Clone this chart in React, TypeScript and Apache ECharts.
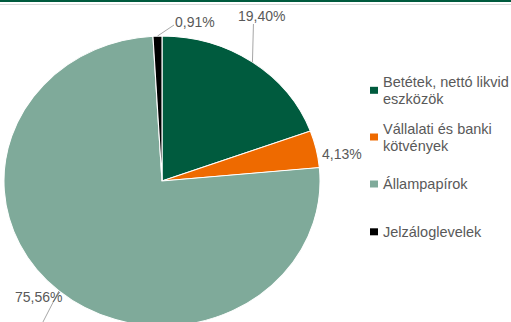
import React, { useEffect, useRef } from "react";
import * as echarts from "echarts";

// ---- data ----
const categories = [
  "Betétek, nettó likvid eszközök",
  "Vállalati és banki kötvények",
  "Állampapírok",
  "Jelzáloglevelek",
];
const shares = [19.4, 4.13, 75.56, 0.91];
const shareLabels = ["19,40%", "4,13%", "75,56%", "0,91%"];
const colors = ["#005B3E", "#EE6A00", "#7FAA9A", "#000000"];
const legendFirstLineWords = [3, 3, 1, 1];

// ---- layout ----
const CX = 162;
const CY = 181;
const RX = 158;
const RY = 145;
const FONT = "'Liberation Sans', Arial, sans-serif";
const TEXT = "#595959";
const LEADER = "#A6A6A6";
const LH = 17;
const legendCenters = [90.3, 137, 184, 231.8];
const labelLayout: { x: number; y: number; end: ((p: number[]) => number[]) | null }[] = [
  { x: 238, y: 16, end: (p) => [p[0] + 1, 24] },
  { x: 322, y: 153.5, end: null },
  { x: 15, y: 297, end: (p) => [p[0] - 18, p[1] + 35] },
  { x: 175, y: 21.5, end: () => [174, 25] },
];

const total = shares.reduce((a, b) => a + b, 0);

function makeSeries(i: number) {
  return {
    type: "custom",
    name: categories[i],
    coordinateSystem: "none",
    itemStyle: { color: colors[i] },
    data: [[shares[i]]],
    silent: true,
    renderItem: (_params: any, api: any) => {
      const v = api.value(0) as number;
      const before = shares.slice(0, i).reduce((a, b) => a + b, 0);
      const a0 = -Math.PI / 2 + (2 * Math.PI * before) / total;
      const a1 = a0 + (2 * Math.PI * v) / total;
      const am = (a0 + a1) / 2;
      const edge = [CX + RX * Math.cos(am), CY + RY * Math.sin(am)];
      const lay = labelLayout[i];
      const children: any[] = [
        {
          type: "sector",
          x: CX,
          y: CY,
          scaleX: RX / RY,
          shape: { cx: 0, cy: 0, r0: 0, r: RY, startAngle: a0, endAngle: a1, clockwise: true },
          style: { fill: colors[i], stroke: "#ffffff", lineWidth: 1, strokeNoScale: true },
        },
      ];
      if (lay.end) {
        children.push({
          type: "polyline",
          shape: { points: [edge, lay.end(edge)] },
          style: { stroke: LEADER, lineWidth: 1, fill: null },
        });
      }
      children.push({
        type: "text",
        x: lay.x,
        y: lay.y,
        style: {
          text: shareLabels[i],
          fill: TEXT,
          fontSize: 14,
          fontFamily: FONT,
          align: "left",
          verticalAlign: "middle",
        },
      });
      return { type: "group", children };
    },
  };
}

function makeLegend(i: number) {
  const name = categories[i];
  const words = name.split(" ");
  const n = legendFirstLineWords[i];
  const twoLine = words.length > n;
  const text = twoLine
    ? words.slice(0, n).join(" ") + "\n" + words.slice(n).join(" ")
    : name;
  return {
    data: [name],
    orient: "vertical",
    left: 370,
    top: legendCenters[i] - (twoLine ? 1.5 : 0.5) * LH,
    padding: 0,
    itemWidth: 8,
    itemHeight: 7,
    icon: "rect",
    selectedMode: false,
    formatter: () => text,
    textStyle: {
      fontSize: 14.5,
      lineHeight: LH,
      color: TEXT,
      fontFamily: FONT,
      padding: twoLine ? [LH, 0, 0, 0] : 0,
    },
  };
}

export default function App() {
  const ref = useRef<HTMLDivElement>(null);
  useEffect(() => {
    if (!ref.current) return;
    const chart = echarts.init(ref.current, null, { renderer: "svg" });
    chart.setOption({
      animation: false,
      backgroundColor: "#ffffff",
      tooltip: { show: false },
      graphic: [
        { type: "rect", shape: { x: 0, y: 0, width: 511, height: 2 }, style: { fill: "#005B3E" } },
        { type: "line", shape: { x1: 0, y1: 4.5, x2: 511, y2: 4.5 }, style: { stroke: "#D9D9D9", lineWidth: 1 } },
      ],
      legend: categories.map((_, i) => makeLegend(i)),
      series: categories.map((_, i) => makeSeries(i)),
    });
    return () => chart.dispose();
  }, []);
  return (
    <div
      ref={ref}
      style={{ position: "absolute", left: 0, top: 0, width: 511, height: 322 }}
    />
  );
}
